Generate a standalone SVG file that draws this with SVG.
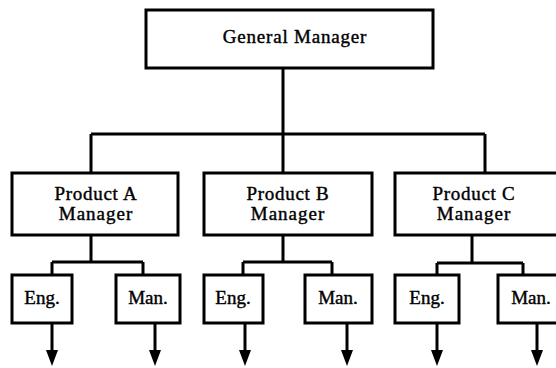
<svg xmlns="http://www.w3.org/2000/svg" width="556" height="368" viewBox="0 0 556 368">
<style>
.box{fill:#fff;stroke:#000;stroke-width:3}
.ln{fill:none;stroke:#000;stroke-width:3}
.t{font-family:"Liberation Serif","Times New Roman",serif;font-size:19px;fill:#000;stroke:#000;stroke-width:0.4;text-anchor:middle}
</style>
<defs>
<marker id="ah" markerUnits="userSpaceOnUse" markerWidth="18" markerHeight="14" refX="1" refY="6" orient="auto">
<path d="M0,0 L16,6 L0,12 z" fill="#000"/>
</marker>
</defs>
<rect width="556" height="368" fill="#fff"/>
<g id="connectors">
<path class="ln" d="M283,68 V134 M91,134 H485 M91,134 V173 M283,134 V173 M485,134 V173"/>
<path class="ln" d="M91,235 V262 M52,262 H143 M52,262 V275 M143,262 V275"/>
<path class="ln" d="M283,235 V262 M243,262 H332 M243,262 V275 M332,262 V275"/>
<path class="ln" d="M472,235 V263 M437,263 H523 M437,263 V275 M523,263 V275"/>
<line class="ln" x1="52" y1="323" x2="52" y2="351" marker-end="url(#ah)"/>
<line class="ln" x1="155" y1="323" x2="155" y2="351" marker-end="url(#ah)"/>
<line class="ln" x1="245" y1="323" x2="245" y2="351" marker-end="url(#ah)"/>
<line class="ln" x1="347" y1="323" x2="347" y2="351" marker-end="url(#ah)"/>
<line class="ln" x1="437" y1="323" x2="437" y2="351" marker-end="url(#ah)"/>
<line class="ln" x1="537" y1="323" x2="537" y2="351" marker-end="url(#ah)"/>
</g>
<g id="gm">
<rect class="box" x="146" y="10" width="287" height="58"/>
<text class="t" x="295" y="43" font-size="21" letter-spacing="0.8">General Manager</text>
</g>
<g id="pa">
<rect class="box" x="12" y="173" width="166" height="62"/>
<text class="t" x="96" y="200" letter-spacing="0.7">Product A</text>
<text class="t" x="96" y="220" letter-spacing="1">Manager</text>
</g>
<g id="pb">
<rect class="box" x="204" y="173" width="168" height="62"/>
<text class="t" x="288" y="200" letter-spacing="0.7">Product B</text>
<text class="t" x="288" y="220" letter-spacing="1">Manager</text>
</g>
<g id="pc">
<rect class="box" x="395" y="173" width="170" height="62"/>
<text class="t" x="474" y="200" letter-spacing="0.7">Product C</text>
<text class="t" x="474" y="220" letter-spacing="1">Manager</text>
</g>
<g id="a-eng">
<rect class="box" x="12" y="275" width="60" height="48"/>
<text class="t" x="42" y="304">Eng.</text>
</g>
<g id="a-man">
<rect class="box" x="116" y="275" width="64" height="48"/>
<text class="t" x="148" y="304">Man.</text>
</g>
<g id="b-eng">
<rect class="box" x="204" y="275" width="59" height="48"/>
<text class="t" x="233" y="304">Eng.</text>
</g>
<g id="b-man">
<rect class="box" x="305" y="275" width="67" height="48"/>
<text class="t" x="338" y="304">Man.</text>
</g>
<g id="c-eng">
<rect class="box" x="395" y="275" width="64" height="48"/>
<text class="t" x="427" y="304">Eng.</text>
</g>
<g id="c-man">
<rect class="box" x="498" y="275" width="62" height="48"/>
<text class="t" x="531" y="304">Man.</text>
</g>
</svg>
